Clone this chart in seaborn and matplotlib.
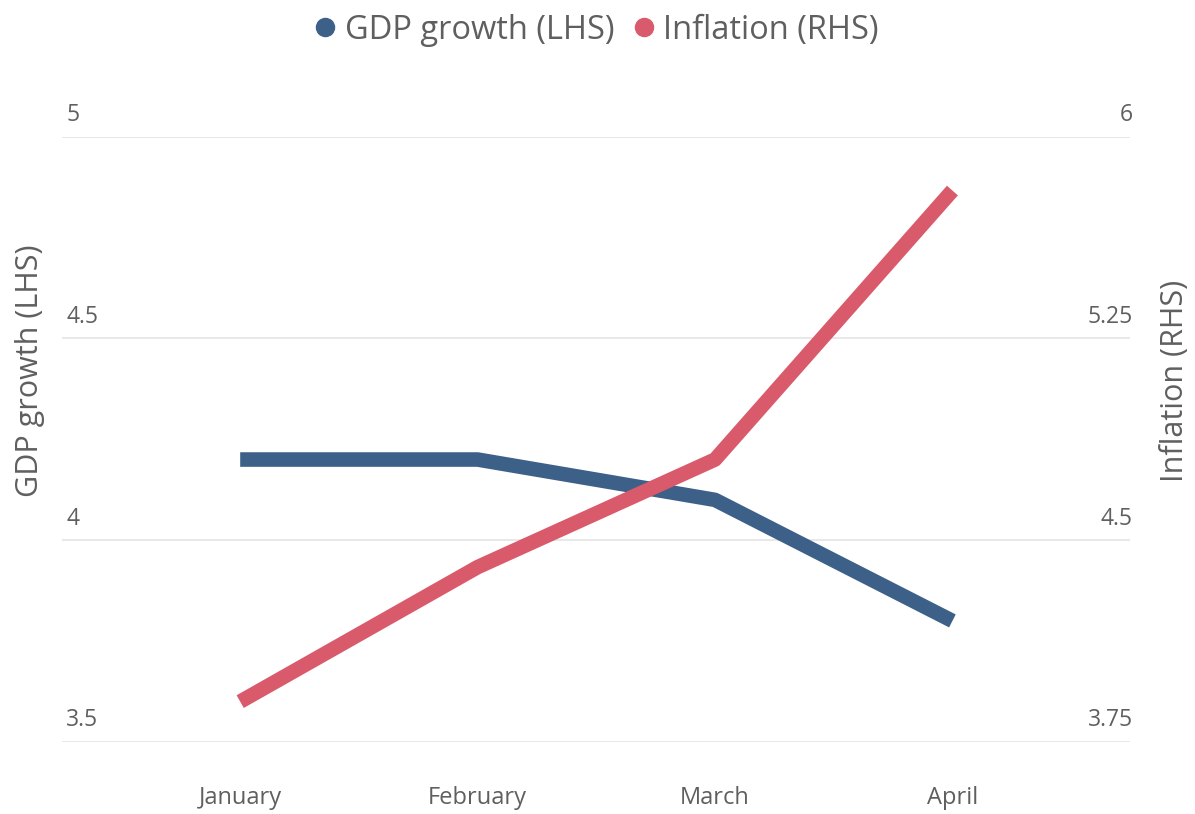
import matplotlib.pyplot as plt
import matplotlib.transforms as mtransforms
from matplotlib.lines import Line2D
import pandas as pd
import seaborn as sns

months = ["January", "February", "March", "April"]
gdp_growth = [4.2, 4.2, 4.1, 3.8]
inflation = [3.9, 4.4, 4.8, 5.8]
left_ticks = [3.5, 4, 4.5, 5]
left_tick_labels = ["3.5", "4", "4.5", "5"]
right_ticks = [3.75, 4.5, 5.25, 6]
right_tick_labels = ["3.75", "4.5", "5.25", "6"]

BLUE = "#3d6089"
RED = "#d95a6b"
TEXT_COLOR = "#5f5f5f"
GRID_COLOR = "#e4e4e4"

sns.set_theme(style="white")
plt.rcParams["font.family"] = ["Open Sans", "DejaVu Sans"]

df = pd.DataFrame({"month": months, "gdp": gdp_growth, "infl": inflation})
df["pos"] = range(len(months))

fig = plt.figure(figsize=(11.95, 8.14), dpi=100)
ax = fig.add_axes([0.052, 0.0885, 0.894, 0.7435])
ax2 = ax.twinx()

sns.lineplot(data=df, x="pos", y="gdp", ax=ax, color=BLUE, linewidth=10.5,
             solid_capstyle="butt", zorder=3)
sns.lineplot(data=df, x="pos", y="infl", ax=ax2, color=RED, linewidth=10.5,
             solid_capstyle="butt", zorder=3)

ax.set_xlim(-0.75, 3.75)
ax.set_ylim(3.5, 5)
ax2.set_ylim(3.75, 6)

# grid lines
for t in left_ticks:
    ax.axhline(t, color=GRID_COLOR, linewidth=1.2, zorder=0)

for a in (ax, ax2):
    for s in a.spines.values():
        s.set_visible(False)
    a.set_yticks([])
    a.set_ylabel("")
    a.set_xlabel("")
    a.patch.set_visible(False)

ax.set_xticks(df["pos"])
ax.set_xticklabels(months, fontsize=17, color=TEXT_COLOR)
ax.tick_params(axis="x", length=0, pad=32)

# tick labels above gridlines, inside the plot area
off = mtransforms.ScaledTranslation(0, 7 / 72, fig.dpi_scale_trans)
tl = mtransforms.blended_transform_factory(ax.transAxes, ax.transData) + off
for t, lab in zip(left_ticks, left_tick_labels):
    ax.text(0.004, t, lab, transform=tl, ha="left", va="bottom",
            fontsize=16.5, color=TEXT_COLOR)
tr = mtransforms.blended_transform_factory(ax2.transAxes, ax2.transData) + off
for t, lab in zip(right_ticks, right_tick_labels):
    ax2.text(1.002, t, lab, transform=tr, ha="right", va="bottom",
             fontsize=16.5, color=TEXT_COLOR)

fig.text(0.025, 0.545, "GDP growth (LHS)", rotation=90, ha="center",
         va="center", fontsize=22, color=TEXT_COLOR)
fig.text(0.983, 0.532, "Inflation (RHS)", rotation=90, ha="center",
         va="center", fontsize=22, color=TEXT_COLOR)

handles = [
    Line2D([], [], marker="o", linestyle="", color=BLUE, markersize=13),
    Line2D([], [], marker="o", linestyle="", color=RED, markersize=13),
]
fig.legend(handles, ["GDP growth (LHS)", "Inflation (RHS)"], loc="center",
           bbox_to_anchor=(0.497, 0.963), ncol=2, frameon=False,
           fontsize=23.5, labelcolor=TEXT_COLOR, handletextpad=0.1,
           columnspacing=0.4, handlelength=1.0)

fig.savefig("out.png", dpi=100, facecolor="white")
